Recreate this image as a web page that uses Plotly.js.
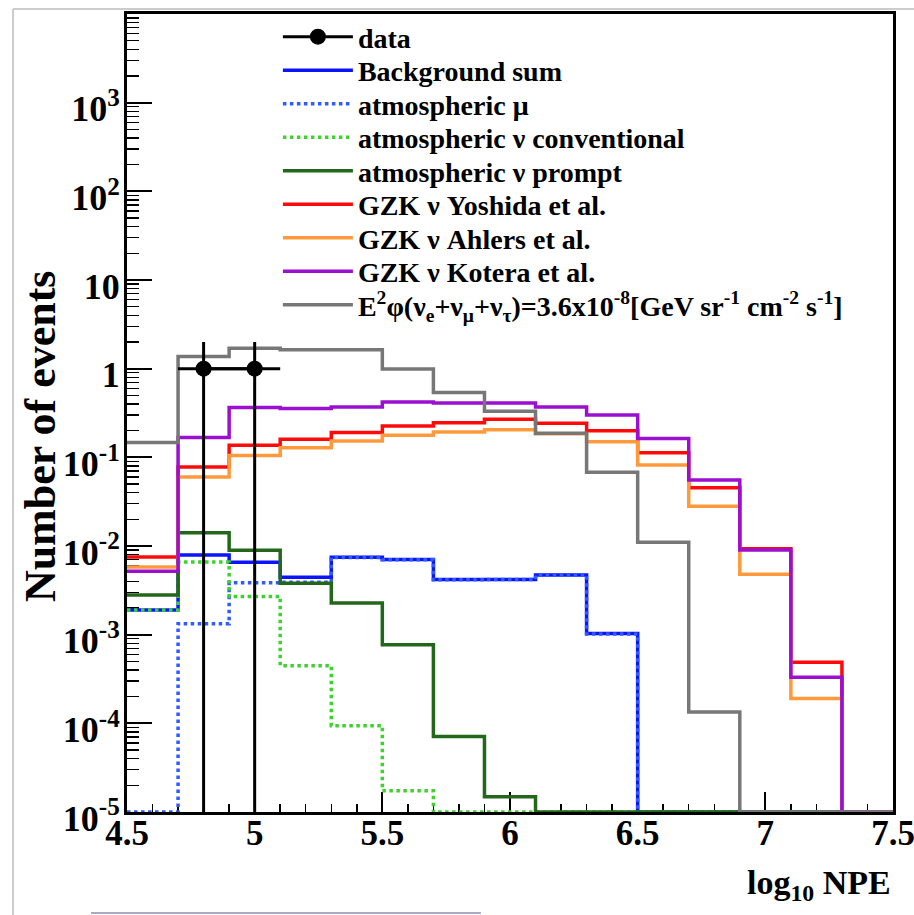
<!DOCTYPE html>
<html>
<head>
<meta charset="utf-8">
<script src="https://cdn.plot.ly/plotly-3.0.1.min.js"></script>
<style>
  html, body { margin: 0; padding: 0; background: #ffffff; }
  #chart { width: 914px; height: 915px; }
</style>
</head>
<body>
<div id="chart"></div>
<script>
// Bin edges of the log10(NPE) histograms (bin width 0.2)
const binEdges = [4.5, 4.7, 4.9, 5.1, 5.3, 5.5, 5.7, 5.9, 6.1, 6.3, 6.5, 6.7, 6.9, 7.1, 7.3, 7.5];

// Expected number of events per bin
const backgroundSum = [1.9e-3, 7.9e-3, 6.56e-3, 4.45e-3, 7.48e-3, 7.04e-3, 4.18e-3, 4.2e-3, 4.7e-3, 1.03e-3, 0, 0, 0, 0, 0];
const atmMuon       = [0, 1.33e-3, 3.84e-3, 3.9e-3, 7.4e-3, 7.0e-3, 4.15e-3, 4.18e-3, 4.68e-3, 1.02e-3, 0, 0, 0, 0, 0];
const atmNuConv     = [1.9e-3, 6.6e-3, 2.7e-3, 4.47e-4, 9.4e-5, 1.74e-5, 0, 0, 0, 0, 0, 0, 0, 0, 0];
const atmNuPrompt   = [2.8e-3, 0.0141, 8.97e-3, 3.8e-3, 2.28e-3, 7.7e-4, 7.1e-5, 1.49e-5, 0, 0, 0, 0, 0, 0, 0];
const gzkYoshida    = [7.5e-3, 0.0778, 0.137, 0.16, 0.19, 0.226, 0.246, 0.269, 0.242, 0.20, 0.113, 0.0454, 0.0093, 4.9e-4, 0];
const gzkAhlers     = [5.8e-3, 0.060, 0.105, 0.128, 0.153, 0.177, 0.193, 0.205, 0.185, 0.15, 0.082, 0.028, 4.8e-3, 1.9e-4, 0];
const gzkKotera     = [5.2e-3, 0.167, 0.364, 0.355, 0.37, 0.42, 0.41, 0.41, 0.37, 0.30, 0.163, 0.0554, 0.009, 3.3e-4, 0];
const e2PhiFlux     = [0.147, 1.37, 1.70, 1.63, 1.63, 0.99, 0.54, 0.33, 0.187, 0.068, 0.011, 1.34e-4, 0, 0, 0];

// Observed events
const dataX    = [4.8, 5.0];
const dataY    = [1, 1];
const dataErrY = [1, 1];
const dataErrX = [0.1, 0.1];

// Axis labels
const xTickVals = [4.5, 5, 5.5, 6, 6.5, 7, 7.5];
const xTickText = ['4.5', '5', '5.5', '6', '6.5', '7', '7.5'];
const yTickVals = [1e-5, 1e-4, 1e-3, 1e-2, 1e-1, 1, 10, 100, 1000];
const yTickText = ['10<sup>-5</sup>', '10<sup>-4</sup>', '10<sup>-3</sup>', '10<sup>-2</sup>',
                   '10<sup>-1</sup>', '1', '10', '10<sup>2</sup>', '10<sup>3</sup>'];

const Y_MIN_EXP = -5, Y_MAX_EXP = 4;
const Y_FLOOR = Math.pow(10, Y_MIN_EXP);   // empty bins sit on the frame, as in ROOT
const FONT = '"Liberation Serif", "Times New Roman", serif';
const LEGEND_FONT_SIZE = 28;

// Log minor ticks 2..9 in every decade
const yMinor = [];
for (let e = Y_MIN_EXP; e < Y_MAX_EXP; e++) {
  for (let k = 2; k <= 9; k++) yMinor.push(k * Math.pow(10, e));
}

// Each legend row is its own small legend box, stacked at a fixed pitch
const LEGEND_LEFT = 0.197;
const LEGEND_TOP_PX = 37, LEGEND_PITCH_PX = 33.5;
const PLOT_TOP_PX = 14, PLOT_H_PX = 798;
function legendBox(row) {
  const yPx = LEGEND_TOP_PX + row * LEGEND_PITCH_PX - PLOT_TOP_PX;
  return {
    x: LEGEND_LEFT, y: 1 - yPx / PLOT_H_PX, xanchor: 'left', yanchor: 'middle',
    bgcolor: 'rgba(0,0,0,0)', borderwidth: 0, itemwidth: 70,
    font: { family: FONT, size: LEGEND_FONT_SIZE, color: '#000000', weight: 'bold' }
  };
}

// Step-line outline of a histogram
function stepTrace(values, name, color, dash, row) {
  const y = values.map(v => Math.max(v, Y_FLOOR));
  y.push(y[y.length - 1]);
  return {
    type: 'scatter', mode: 'lines', name: name, legend: 'legend' + (row + 1),
    x: binEdges.slice(), y: y,
    line: { shape: 'hv', color: color, width: 3.5, dash: dash || 'solid' },
    hoverinfo: 'skip'
  };
}

const traces = [
  stepTrace(backgroundSum, 'Background sum', '#0a14ff', 'solid', 1),
  stepTrace(atmMuon, 'atmospheric \u03bc', '#2f5bff', 'dot', 2),
  stepTrace(atmNuConv, 'atmospheric \u03bd conventional', '#3fd12f', 'dot', 3),
  stepTrace(atmNuPrompt, 'atmospheric \u03bd prompt', '#23681a', 'solid', 4),
  stepTrace(gzkYoshida, 'GZK \u03bd Yoshida et al.', '#ff0a0a', 'solid', 5),
  stepTrace(gzkAhlers, 'GZK \u03bd Ahlers et al.', '#ff9a3c', 'solid', 6),
  stepTrace(gzkKotera, 'GZK \u03bd Kotera et al.', '#9a0fd0', 'solid', 7),
  stepTrace(e2PhiFlux,
    'E<sup>2</sup>\u03c6(\u03bd<sub>e</sub>+\u03bd<sub>\u03bc</sub>+\u03bd<sub>\u03c4</sub>)=3.6x10<sup>-8</sup>[GeV sr<sup>-1</sup> cm<sup>-2</sup> s<sup>-1</sup>]',
    '#777777', 'solid', 8),
  {
    type: 'scatter', mode: 'lines+markers', name: 'data', legend: 'legend',
    x: dataX, y: dataY,
    line: { color: '#000000', width: 3 },
    marker: { color: '#000000', size: 16 },
    error_y: { type: 'data', array: dataErrY, color: '#000000', thickness: 3, width: 0 },
    error_x: { type: 'data', array: dataErrX, color: '#000000', thickness: 3, width: 0 },
    hoverinfo: 'skip'
  }
];

const layout = {
  width: 914, height: 915,
  margin: { l: 127, r: 21, t: 14, b: 103 },
  paper_bgcolor: '#ffffff', plot_bgcolor: '#ffffff',
  font: { family: FONT, color: '#000000', weight: 'bold' },
  showlegend: true,
  xaxis: {
    range: [4.5, 7.5],
    tickmode: 'array', tickvals: xTickVals, ticktext: xTickText,
    ticks: 'inside', ticklen: 20, tickwidth: 2, tickcolor: '#000000',
    minor: { ticks: 'inside', ticklen: 8, tickwidth: 1.5, tickcolor: '#000000', dtick: 0.1, tick0: 4.5, showgrid: false },
    showline: true, linewidth: 3, linecolor: '#000000', mirror: true,
    showgrid: false, zeroline: false, layer: 'below traces',
    ticklabeloverflow: 'allow', ticklabelstandoff: -12,
    tickfont: { family: FONT, size: 35, color: '#000000', weight: 'bold' }
  },
  yaxis: {
    type: 'log', range: [Y_MIN_EXP, Y_MAX_EXP],
    tickmode: 'array', tickvals: yTickVals, ticktext: yTickText,
    ticks: 'inside', ticklen: 25, tickwidth: 2, tickcolor: '#000000',
    minor: { tickmode: 'array', tickvals: yMinor, ticks: 'inside', ticklen: 12, tickwidth: 1.5, tickcolor: '#000000', showgrid: false },
    showline: true, linewidth: 3, linecolor: '#000000', mirror: true,
    showgrid: false, zeroline: false, layer: 'below traces',
    ticklabeloverflow: 'allow', ticklabelstandoff: -3, ticklabelshift: 6,
    tickfont: { family: FONT, size: 36, color: '#000000', weight: 'bold' }
  },
  annotations: [
    {
      text: 'Number of events', textangle: -90,
      xref: 'paper', yref: 'paper', x: -0.1136, y: 0.471,
      xanchor: 'center', yanchor: 'middle', showarrow: false,
      font: { family: FONT, size: 44, color: '#000000', weight: 'bold' }
    },
    {
      text: 'log<sub>10</sub> NPE',
      xref: 'paper', yref: 'paper', x: 1, y: -0.092,
      xanchor: 'right', yanchor: 'middle', showarrow: false,
      font: { family: FONT, size: 34, color: '#000000', weight: 'bold' }
    }
  ],
  shapes: [
    { type: 'line', xref: 'paper', yref: 'paper', x0: -0.1488, x1: 1.03, y0: 1.0063, y1: 1.0063,
      line: { color: '#cccccc', width: 2 } },
    { type: 'line', xref: 'paper', yref: 'paper', x0: -0.1488, x1: -0.1488, y0: -0.13, y1: 1.0063,
      line: { color: '#cccccc', width: 2 } },
    { type: 'line', xref: 'paper', yref: 'paper', x0: -0.047, x1: 0.462, y0: -0.1266, y1: -0.1266,
      line: { color: '#aaaacc', width: 2 } }
  ]
};

// One legend box per row
for (let r = 0; r < 9; r++) {
  layout[r === 0 ? 'legend' : 'legend' + (r + 1)] = legendBox(r);
}

Plotly.newPlot('chart', traces, layout, { displayModeBar: false, staticPlot: true });
</script>
</body>
</html>
